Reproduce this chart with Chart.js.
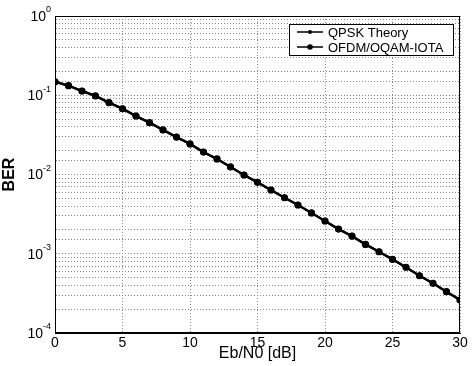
<!DOCTYPE html>
<html>
<head>
<meta charset="utf-8">
<script src="https://cdn.jsdelivr.net/npm/chart.js@4/dist/chart.umd.min.js"></script>
<style>
  html, body { margin: 0; padding: 0; background: #fff; }
  #wrap { width: 472px; height: 366px; }
</style>
</head>
<body>
<div id="wrap"><canvas id="berChart"></canvas></div>
<script>
// Eb/N0 points in dB
const ebn0 = [0, 1, 2, 3, 4, 5, 6, 7, 8, 9, 10, 11, 12, 13, 14, 15,
              16, 17, 18, 19, 20, 21, 22, 23, 24, 25, 26, 27, 28, 29, 30];

// BER (both curves sit on top of each other)
const qpskTheory = [0.148, 0.132, 0.113, 0.098, 0.0806, 0.0676, 0.0547, 0.0451,
                    0.0365, 0.0297, 0.0243, 0.0192, 0.0157, 0.01245, 0.00986, 0.00797,
                    0.00637, 0.00509, 0.00412, 0.00327, 0.00259, 0.00205, 0.00167, 0.00131,
                    0.00106, 0.00085, 0.000675, 0.000528, 0.000424, 0.000332, 0.000261];
const ofdmOqamIota = [0.148, 0.132, 0.113, 0.098, 0.0806, 0.0676, 0.0547, 0.0451,
                      0.0365, 0.0297, 0.0243, 0.0192, 0.0157, 0.01245, 0.00986, 0.00797,
                      0.00637, 0.00509, 0.00412, 0.00327, 0.00259, 0.00205, 0.00167, 0.00131,
                      0.00106, 0.00085, 0.000675, 0.000528, 0.000424, 0.000332, 0.000261];

const seriesNames = ['QPSK Theory', 'OFDM/OQAM-IOTA'];
const xTicks = [0, 5, 10, 15, 20, 25, 30];
const yDecades = [1, 0.1, 0.01, 0.001, 0.0001];
const yExponents = ['0', '-1', '-2', '-3', '-4'];

const FONT = '"Liberation Sans", Arial, sans-serif';

// Box round the plot area, power-of-ten labels and a legend in the top right corner
const boxAndLegend = {
    id: 'boxAndLegend',
    afterDraw(chart) {
        const ctx = chart.ctx;
        const a = chart.chartArea;
        const yScale = chart.scales.y;
        ctx.save();
        ctx.strokeStyle = '#000';
        ctx.lineWidth = 1;
        ctx.setLineDash([]);
        ctx.strokeRect(a.left + 0.5, a.top + 0.5, a.right - a.left - 1, a.bottom - a.top - 1);

        // y tick labels: "10" with a raised exponent
        ctx.fillStyle = '#000';
        ctx.textBaseline = 'middle';
        yDecades.forEach((v, i) => {
            const y = yScale.getPixelForValue(v);
            ctx.font = '9px ' + FONT;
            const ew = ctx.measureText(yExponents[i]).width;
            ctx.textAlign = 'right';
            ctx.fillText(yExponents[i], 51, y - 6);
            ctx.font = '14px ' + FONT;
            ctx.fillText('10', 51 - ew, y + 1);
        });

        // legend
        const lx = 289, ly = 24, lw = 164, lh = 31;
        ctx.textAlign = 'left';
        ctx.fillStyle = '#fff';
        ctx.fillRect(lx, ly, lw, lh);
        ctx.strokeRect(lx + 0.5, ly + 0.5, lw, lh);
        ctx.font = '13px ' + FONT;
        chart.data.datasets.forEach((ds, i) => {
            const y = ly + 8 + i * 15;
            ctx.strokeStyle = '#000';
            ctx.lineWidth = 1.5;
            ctx.beginPath();
            ctx.moveTo(lx + 8, y);
            ctx.lineTo(lx + 34, y);
            ctx.stroke();
            ctx.fillStyle = '#000';
            ctx.beginPath();
            ctx.arc(lx + 21, y, i === 0 ? 2 : 2.8, 0, Math.PI * 2);
            ctx.fill();
            ctx.fillText(ds.label, lx + 39, y + 1);
        });
        ctx.restore();
    }
};

new Chart(document.getElementById('berChart'), {
    type: 'line',
    data: {
        labels: ebn0,
        datasets: [{
            label: seriesNames[0],
            data: ebn0.map((x, i) => ({ x: x, y: qpskTheory[i] })),
            borderColor: '#000',
            backgroundColor: '#000',
            borderWidth: 2.5,
            pointRadius: 2,
            pointStyle: 'circle',
            fill: false
        }, {
            label: seriesNames[1],
            data: ebn0.map((x, i) => ({ x: x, y: ofdmOqamIota[i] })),
            borderColor: '#000',
            backgroundColor: '#000',
            borderWidth: 2,
            pointRadius: 2.6,
            pointStyle: 'circle',
            fill: false
        }]
    },
    options: {
        responsive: true,
        maintainAspectRatio: false,
        animation: false,
        layout: { padding: { left: 0, top: 16, right: 12, bottom: 0 } },
        plugins: { legend: { display: false }, tooltip: { enabled: false } },
        scales: {
            x: {
                type: 'linear',
                min: 0,
                max: 30,
                afterBuildTicks: axis => { axis.ticks = xTicks.map(v => ({ value: v })); },
                ticks: { color: '#000', font: { family: FONT, size: 14 }, padding: 2, maxRotation: 0 },
                grid: { color: '#888', drawTicks: false, lineWidth: 1 },
                border: { dash: [1, 2], color: '#000' },
                title: { display: true, text: 'Eb/N0 [dB]', color: '#000', font: { family: FONT, size: 16 }, padding: { top: 0, bottom: 3 } },
                afterFit: axis => { axis.height = 33; }
            },
            y: {
                type: 'logarithmic',
                min: 0.0001,
                max: 1,
                ticks: {
                    autoSkip: false,
                    font: { family: FONT, size: 14 },
                    callback: () => ''
                },
                grid: { color: '#888', drawTicks: false, lineWidth: 1 },
                border: { dash: [1, 2], color: '#000' },
                title: { display: true, text: 'BER', color: '#000', font: { family: FONT, size: 16, weight: 'bold' }, padding: { top: 0, bottom: 2 } },
                afterFit: axis => { axis.width = 55; }
            }
        }
    },
    plugins: [boxAndLegend]
});
</script>
</body>
</html>
